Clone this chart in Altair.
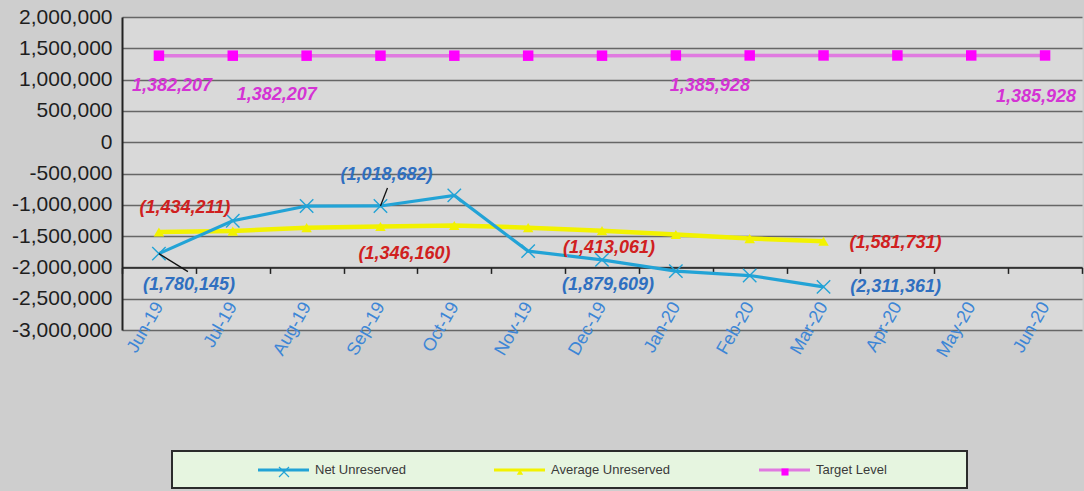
import altair as alt
import pandas as pd

months = ["Jun-19", "Jul-19", "Aug-19", "Sep-19", "Oct-19", "Nov-19", "Dec-19",
          "Jan-20", "Feb-20", "Mar-20", "Apr-20", "May-20", "Jun-20"]
series_names = ["Net Unreserved", "Average Unreserved", "Target Level"]
net_unreserved = [-1780145, -1255000, -1020000, -1018682, -850000, -1740000,
                  -1879609, -2060000, -2130000, -2311361]
avg_unreserved = [-1434211, -1420000, -1365000, -1346160, -1330000, -1365000,
                  -1413061, -1475000, -1540000, -1581731]
target_level = [1382207, 1382207, 1382207, 1382207, 1382207, 1382207, 1382207,
                 1385928, 1385928, 1385928, 1385928, 1385928, 1385928]
y_ticks = [2000000, 1500000, 1000000, 500000, 0, -500000, -1000000, -1500000,
           -2000000, -2500000, -3000000]

# labelled points (index into months)
net_labelled = [0, 3, 6, 9]
avg_labelled = [0, 3, 6, 9]
target_labelled = [0, 1, 7, 12]

NET_C = "#22a3d6"
AVG_C = "#f2f200"
TGT_LINE = "#e07ae0"
TGT_MARK = "#ff00ff"
FONT = "Liberation Sans"


def fmt(v):
    return f"({abs(v):,})" if v < 0 else f"{v:,}"


def frame(values):
    return pd.DataFrame({"month": months[:len(values)], "value": values,
                         "label": [fmt(v) for v in values]})


x_scale = alt.Scale(type="band", paddingInner=0, paddingOuter=0)
y_scale = alt.Scale(domain=[-3000000, 2000000], nice=False, zero=False)

x_axis = alt.Axis(title=None, orient="bottom", offset=-62.6, domain=True,
                  domainColor="#222222", domainWidth=1.5, ticks=True,
                  tickBand="extent", tickSize=6, tickColor="#222222", tickWidth=1.5,
                  labelAngle=-60, labelAlign="right", labelBaseline="middle",
                  labelColor="#3d86d6", labelFontSize=18, labelFont=FONT,
                  labelPadding=30, grid=False)
y_axis = alt.Axis(title=None, values=y_ticks,
                  labelExpr="(datum.value < 0 ? '-' : '') + format(abs(datum.value), ',')",
                  labelFontSize=21, labelFont=FONT, labelColor="#1e1e1e",
                  labelPadding=10, ticks=False, domain=True, domainColor="#222222",
                  domainWidth=2, grid=True, gridColor="#666666", gridWidth=1.3)


def X():
    return alt.X("month:N", sort=months, scale=x_scale, bandPosition=0.5, axis=x_axis)


def Y():
    return alt.Y("value:Q", scale=y_scale, axis=y_axis)


df_net = frame(net_unreserved)
df_avg = frame(avg_unreserved)
df_tgt = frame(target_level)

layers = []

# Target level
layers.append(alt.Chart(df_tgt).mark_line(color=TGT_LINE, strokeWidth=3.5)
              .encode(x=X(), y=Y()))
layers.append(alt.Chart(df_tgt).mark_point(shape="square", filled=True, opacity=1,
                                           color=TGT_MARK, size=110)
              .encode(x=X(), y=Y()))
# Average
layers.append(alt.Chart(df_avg).mark_line(color=AVG_C, strokeWidth=4.5)
              .encode(x=X(), y=Y()))
layers.append(alt.Chart(df_avg).mark_point(shape="triangle-up", filled=True, opacity=1,
                                           color=AVG_C, size=110)
              .encode(x=X(), y=Y()))
# Net
layers.append(alt.Chart(df_net).mark_line(color=NET_C, strokeWidth=3.2)
              .encode(x=X(), y=Y()))
layers.append(alt.Chart(df_net).mark_point(shape="M-1,-1L1,1M-1,1L1,-1", filled=False,
                                           opacity=1, color=NET_C, strokeWidth=1.4,
                                           size=180)
              .encode(x=X(), y=Y()))

# Leader lines
leaders = [(0, "M0,0L1,0.62", 3364), (3, "M0,0L0.39,-1", 1296)]
for idx, path, size in leaders:
    layers.append(alt.Chart(df_net.iloc[[idx]]).mark_point(
        shape=path, filled=False, opacity=1, color="#111111", strokeWidth=1.3, size=size)
        .encode(x=X(), y=Y()))

# Data labels
label_offsets = {
    "tgt": {0: (13, 30), 1: (44, 39), 7: (34, 31), 12: (-9, 42)},
    "avg": {0: (26, -24), 3: (24, 28), 6: (7, 17), 9: (72, 2)},
    "net": {0: (30, 31), 3: (6, -31), 6: (6, 25), 9: (72, 0)},
}
label_specs = [("tgt", df_tgt, target_labelled, "#d433d4"),
               ("avg", df_avg, avg_labelled, "#d02020"),
               ("net", df_net, net_labelled, "#2f6fc0")]
for key, df, idxs, col in label_specs:
    for i in idxs:
        dx, dy = label_offsets[key][i]
        layers.append(alt.Chart(df.iloc[[i]]).mark_text(
            dx=dx, dy=dy, color=col, fontSize=18, fontStyle="italic", fontWeight="bold",
            font=FONT, align="center", baseline="middle")
            .encode(x=X(), y=Y(), text="label:N"))

# Legend (drawn below the plot)
one = alt.Data(values=[{}])
layers.append(alt.Chart(one).mark_rect(fill="#e6f5e0", stroke="#2b2b2b", strokeWidth=2)
              .encode(x=alt.value(50), x2=alt.value(845), y=alt.value(434), y2=alt.value(471)))
legend_items = [
    (series_names[0], NET_C, NET_C, "M-1,-1L1,1M-1,1L1,-1", False, 100, 136),
    (series_names[1], AVG_C, AVG_C, "triangle-up", True, 40, 372),
    (series_names[2], TGT_LINE, TGT_MARK, "square", True, 50, 637),
]
for name, lcol, mcol, shape, filled, msize, x0 in legend_items:
    layers.append(alt.Chart(one).mark_rule(color=lcol, strokeWidth=3)
                  .encode(x=alt.value(x0), x2=alt.value(x0 + 51), y=alt.value(453)))
    layers.append(alt.Chart(one).mark_point(shape=shape, filled=filled, opacity=1,
                                            color=mcol, size=msize, strokeWidth=1.2)
                  .encode(x=alt.value(x0 + 26), y=alt.value(455)))
    layers.append(alt.Chart(one).mark_text(align="left", baseline="middle", fontSize=13,
                                           font=FONT, color="#3a3a3a")
                  .encode(x=alt.value(x0 + 57), y=alt.value(453), text=alt.value(name)))

chart = alt.layer(*layers).properties(
    width=960, height=313,
    autosize=alt.AutoSizeParams(type="none"),
    padding={"left": 122, "top": 17, "right": 2, "bottom": 161},
    background="#cecece",
).configure_view(fill="#d9d9d9", stroke="transparent")

chart.save("out.html", embed_options={"renderer": "svg", "actions": False})
